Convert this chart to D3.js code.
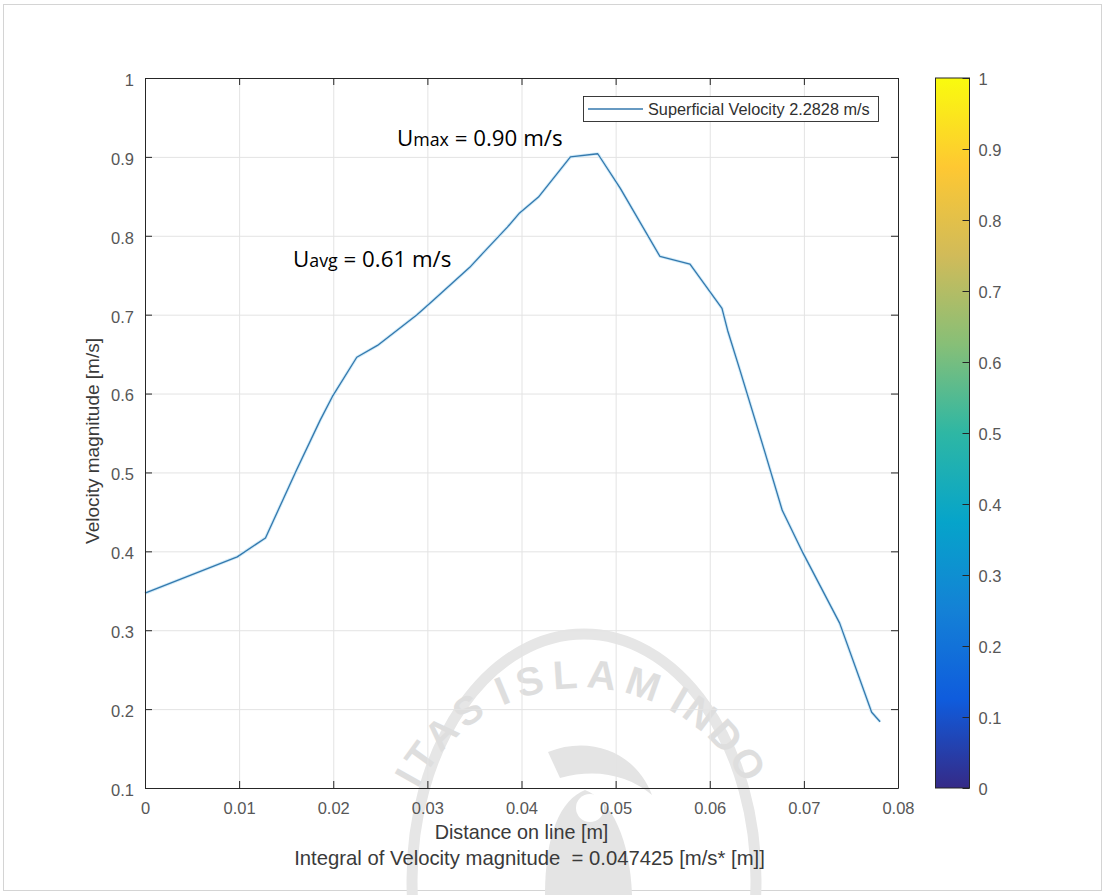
<!DOCTYPE html>
<html>
<head>
<meta charset="utf-8">
<script src="https://cdn.jsdelivr.net/npm/d3@7"></script>
<style>
  body { margin: 0; background: #fff; }
  svg text { font-family: "Liberation Sans", Arial, sans-serif; }
</style>
</head>
<body>
<div id="canvas"></div>
<script>
// data
var distance = [0, 0.0098, 0.0128, 0.0161, 0.0186, 0.0199, 0.0225, 0.0247, 0.0289, 0.0306,
  0.0345, 0.0359, 0.0385, 0.0398, 0.0418, 0.0452, 0.0481, 0.0505, 0.0547, 0.0579,
  0.0613, 0.0619, 0.0632, 0.0658, 0.0677, 0.0699, 0.0738, 0.0772, 0.0781];
var velocity = [0.347, 0.393, 0.417, 0.503, 0.566, 0.596, 0.646, 0.661, 0.700, 0.718,
  0.760, 0.778, 0.811, 0.829, 0.849, 0.900, 0.904, 0.860, 0.774, 0.764,
  0.708, 0.680, 0.630, 0.528, 0.452, 0.398, 0.309, 0.196, 0.184];
var xTicks = [0, 0.01, 0.02, 0.03, 0.04, 0.05, 0.06, 0.07, 0.08];
var yTicks = [0.1, 0.2, 0.3, 0.4, 0.5, 0.6, 0.7, 0.8, 0.9, 1];
var cTicks = [0, 0.1, 0.2, 0.3, 0.4, 0.5, 0.6, 0.7, 0.8, 0.9, 1];
var legendLabel = "Superficial Velocity 2.2828 m/s";
var parula = ["#352a87", "#0f5cdd", "#1481d6", "#06a4ca", "#2eb7a4", "#87bf77", "#d1bb59", "#fec832", "#f9fb0e"];

var W = 1105, H = 895;
var margin = {top: 78, left: 145, right: 898, bottom: 788};

var svg = d3.select("#canvas").append("svg")
    .attr("width", W)
    .attr("height", H);

// figure frame
svg.append("rect")
    .attr("x", 3.5).attr("y", 4.5)
    .attr("width", W - 7).attr("height", H - 9)
    .attr("fill", "none").attr("stroke", "#d4d4d4");

// university watermark (sits behind the chart), only the visible part of the words
var wm = svg.append("g").attr("pointer-events", "none");
var cx = 582, cy = 872;
wm.append("ellipse")
    .attr("cx", cx + 2).attr("cy", 880).attr("rx", 172).attr("ry", 246)
    .attr("fill", "none").attr("stroke", "#e6e6e6").attr("stroke-width", 11);
var r = 184;
wm.append("path")
    .attr("id", "wmArc")
    .attr("fill", "none")
    .attr("d", "M" + cx + "," + (cy + r) +
      " A" + r + "," + r + " 0 0 1 " + cx + "," + (cy - r) +
      " A" + r + "," + r + " 0 0 1 " + cx + "," + (cy + r));
[["ISLAM", "50%", "middle", 8], ["ITAS", "41.8%", "end", 5], ["INDO", "57.7%", "start", 3]]
  .forEach(function(w){
    wm.append("text")
        .attr("font-size", "40px").attr("font-weight", "bold")
        .attr("fill", "#dedede").attr("letter-spacing", w[3] + "px")
        .append("textPath")
        .attr("href", "#wmArc")
        .attr("startOffset", w[1])
        .attr("text-anchor", w[2])
        .text(w[0]);
  });
wm.append("path")
    .attr("d", "M545,895 C545,835 560,800 585,790 C612,800 630,840 632,895 Z")
    .attr("fill", "#e4e4e4");
wm.append("circle")
    .attr("cx", 590).attr("cy", 808).attr("r", 14)
    .attr("fill", "#fff");
wm.append("path")
    .attr("d", "M548,752 C590,735 636,752 652,795 C628,775 596,768 560,778 Z")
    .attr("fill", "#e4e4e4");

var x = d3.scaleLinear().domain([0, 0.08]).range([margin.left, margin.right]);
var y = d3.scaleLinear().domain([0.1, 1]).range([margin.bottom, margin.top]);
var fmt = function(d){ return d3.format("~g")(d); };

// grid
function gridOnly(g){
  g.select(".domain").remove();
  g.selectAll(".tick text").remove();
  g.selectAll("line").attr("stroke", "#e3e3e3");
}
svg.append("g")
    .attr("transform", "translate(0," + margin.bottom + ")")
    .call(d3.axisBottom(x).tickValues(xTicks).tickSize(-(margin.bottom - margin.top)))
    .call(gridOnly);
svg.append("g")
    .attr("transform", "translate(" + margin.left + ",0)")
    .call(d3.axisLeft(y).tickValues(yTicks).tickSize(-(margin.right - margin.left)))
    .call(gridOnly);

// line
var line = d3.line()
    .x(function(d, i){ return x(distance[i]); })
    .y(function(d){ return y(d); });
svg.append("path")
    .datum(velocity)
    .attr("d", line)
    .attr("fill", "none")
    .attr("stroke", "#d2ebf8")
    .attr("stroke-width", 3.2)
    .attr("stroke-linejoin", "round");
svg.append("path")
    .datum(velocity)
    .attr("d", line)
    .attr("fill", "none")
    .attr("stroke", "#3479ae")
    .attr("stroke-width", 1.3)
    .attr("stroke-linejoin", "round");

// box axes, ticks inward
function styleAxis(g){
  g.selectAll(".domain").attr("stroke", "#262626");
  g.selectAll(".tick line").attr("stroke", "#262626");
  g.selectAll(".tick text").attr("fill", "#575757").attr("font-size", "16.5px");
}
function noLabels(g){ g.selectAll(".tick text").remove(); }
svg.append("g")
    .attr("transform", "translate(0," + margin.bottom + ")")
    .call(d3.axisBottom(x).tickValues(xTicks).tickFormat(fmt).tickSizeInner(-7).tickSizeOuter(0).tickPadding(14))
    .call(styleAxis);
svg.append("g")
    .attr("transform", "translate(0," + margin.top + ")")
    .call(d3.axisTop(x).tickValues(xTicks).tickSizeInner(-7).tickSizeOuter(0))
    .call(styleAxis).call(noLabels);
svg.append("g")
    .attr("transform", "translate(" + margin.left + ",0)")
    .call(d3.axisLeft(y).tickValues(yTicks).tickFormat(fmt).tickSizeInner(-7).tickSizeOuter(0).tickPadding(11))
    .call(styleAxis)
    .selectAll(".tick text").attr("dy", "0.45em");
svg.append("g")
    .attr("transform", "translate(" + margin.right + ",0)")
    .call(d3.axisRight(y).tickValues(yTicks).tickSizeInner(-7).tickSizeOuter(0))
    .call(styleAxis).call(noLabels);

// axis labels
svg.append("text")
    .attr("x", (margin.left + margin.right) / 2).attr("y", 839)
    .attr("text-anchor", "middle").attr("font-size", "19.8px").attr("fill", "#3a3a3a")
    .text("Distance on line [m]");
svg.append("text")
    .attr("x", (margin.left + margin.right) / 2 + 8).attr("y", 865)
    .attr("text-anchor", "middle").attr("font-size", "20.3px").attr("fill", "#3a3a3a")
    .attr("xml:space", "preserve")
    .text("Integral of Velocity magnitude  = 0.047425 [m/s* [m]]");
svg.append("text")
    .attr("transform", "translate(99,441) rotate(-90)")
    .attr("text-anchor", "middle").attr("font-size", "19px").attr("fill", "#3a3a3a")
    .text("Velocity magnitude [m/s]");

// legend
var lg = svg.append("g");
lg.append("rect")
    .attr("x", 583.5).attr("y", 96.5).attr("width", 295).attr("height", 25)
    .attr("fill", "#fff").attr("stroke", "#262626").attr("stroke-width", 0.9);
lg.append("line")
    .attr("x1", 588).attr("x2", 643).attr("y1", 109).attr("y2", 109)
    .attr("stroke", "#3479ae").attr("stroke-width", 1.3);
lg.append("text")
    .attr("x", 648).attr("y", 114.5)
    .attr("font-size", "16.3px").attr("fill", "#303030")
    .text(legendLabel);

// annotations
function annot(xp, yp, sub, rest){
  var t = svg.append("text")
      .attr("x", xp).attr("y", yp)
      .attr("fill", "#000")
      .attr("font-size", "22.3px")
      .style("font-family", "'Open Sans', sans-serif");
  t.append("tspan").text("U");
  t.append("tspan").attr("font-size", "17.8px").text(sub);
  t.append("tspan").attr("xml:space", "preserve").text(rest);
}
annot(397, 146, "max", " = 0.90 m/s");
annot(293, 267, "avg", " = 0.61 m/s");

// colorbar
var c = d3.scaleLinear().domain([0, 1]).range([margin.bottom, margin.top]);
var grad = svg.append("defs").append("linearGradient")
    .attr("id", "parula").attr("x1", 0).attr("y1", 1).attr("x2", 0).attr("y2", 0);
grad.selectAll("stop").data(parula).enter().append("stop")
    .attr("offset", function(d, i){ return i / (parula.length - 1); })
    .attr("stop-color", function(d){ return d; });
svg.append("rect")
    .attr("x", 935.5).attr("y", c(1))
    .attr("width", 34).attr("height", c(0) - c(1))
    .attr("fill", "url(#parula)")
    .attr("stroke", "#262626").attr("stroke-width", 1);
svg.append("g")
    .attr("transform", "translate(969.5,0)")
    .call(d3.axisRight(c).tickValues(cTicks).tickFormat(fmt).tickSizeInner(-7).tickSizeOuter(0).tickPadding(9))
    .call(styleAxis)
    .call(function(g){ g.select(".domain").remove(); })
    .selectAll(".tick text").attr("dy", "0.4em");
</script>
</body>
</html>
